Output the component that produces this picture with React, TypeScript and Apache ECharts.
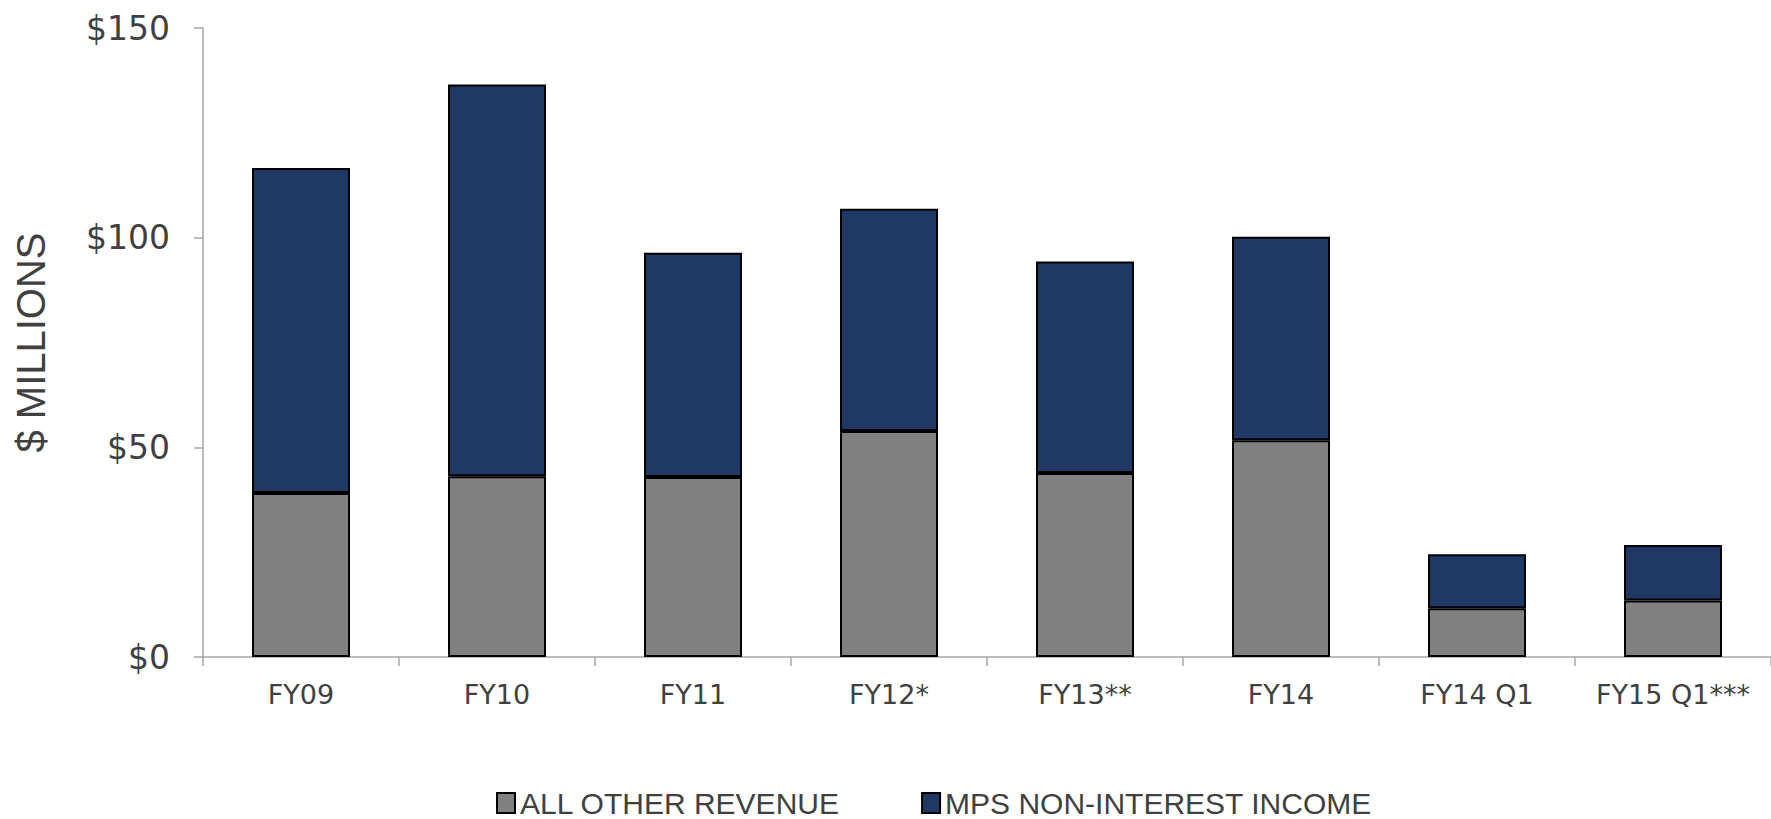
import React, { useEffect, useRef } from "react";
import * as echarts from "echarts";

const categories = ["FY09", "FY10", "FY11", "FY12*", "FY13**", "FY14", "FY14 Q1", "FY15 Q1***"];
const otherRevenue = [39.1, 43.1, 42.9, 53.9, 43.9, 51.7, 11.6, 13.5];
const mpsNonInterest = [77.5, 93.4, 53.5, 53.0, 50.4, 48.5, 12.9, 13.2];
const yTicks = [0, 50, 100, 150];

export default function App() {
  const ref = useRef<HTMLDivElement>(null);
  useEffect(() => {
    if (!ref.current) return;
    const chart = echarts.init(ref.current, null, { renderer: "svg" });
    const textColor = "#404040";
    chart.setOption({
      animation: false,
      backgroundColor: "#ffffff",
      grid: { left: 203, top: 28, bottom: 162, right: -13, containLabel: false },
      legend: {
        top: 783,
        left: 491,
        icon: "rect",
        itemWidth: 18,
        itemHeight: 20,
        itemGap: 81,
        itemTextGap: 9,
        textStyle: { fontFamily: "Liberation Sans Narrow, Liberation Sans, sans-serif", fontSize: 30, color: textColor },
        data: ["ALL OTHER REVENUE", "MPS NON-INTEREST INCOME"],
      },
      xAxis: {
        type: "category",
        data: categories,
        axisLine: { lineStyle: { color: "#a6a6a6", width: 1.5 } },
        axisTick: { show: true, length: 9, lineStyle: { color: "#a6a6a6", width: 1.5 } },
        axisLabel: { color: textColor, fontSize: 27, margin: 24, fontFamily: "DejaVu Sans, sans-serif", interval: 0 },
      },
      yAxis: {
        type: "value",
        min: 0,
        max: 150,
        interval: 50,
        name: "$ MILLIONS",
        nameLocation: "middle",
        nameGap: 152,
        nameTextStyle: { color: textColor, fontSize: 40, fontFamily: "Liberation Sans, sans-serif" },
        axisLine: { show: true, lineStyle: { color: "#a6a6a6", width: 1.5 } },
        axisTick: { show: true, length: 9, lineStyle: { color: "#a6a6a6", width: 1.5 } },
        splitLine: { show: false },
        axisLabel: {
          color: textColor,
          fontSize: 33,
          margin: 33,
          fontFamily: "DejaVu Sans, sans-serif",
          formatter: (v: number) => (yTicks.includes(v) ? "$" + v : ""),
        },
      },
      series: [
        {
          name: "ALL OTHER REVENUE",
          type: "bar",
          stack: "total",
          barWidth: "50%",
          data: otherRevenue,
          itemStyle: { color: "#808080", borderColor: "#000000", borderWidth: 2 },
        },
        {
          name: "MPS NON-INTEREST INCOME",
          type: "bar",
          stack: "total",
          barWidth: "50%",
          data: mpsNonInterest,
          itemStyle: { color: "#203864", borderColor: "#000000", borderWidth: 2 },
        },
      ],
    });
    return () => chart.dispose();
  }, []);
  return <div ref={ref} style={{ position: "absolute", left: 0, top: 0, width: 1771, height: 819 }} />;
}
